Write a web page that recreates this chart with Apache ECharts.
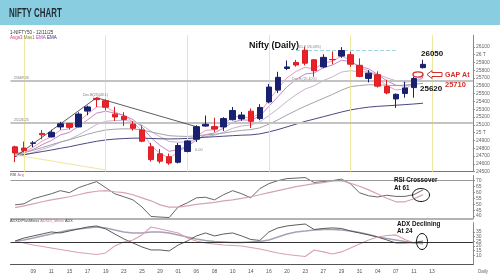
<!DOCTYPE html>
<html><head><meta charset="utf-8">
<script src="https://cdn.jsdelivr.net/npm/echarts@6/dist/echarts.min.js"></script>
<style>html,body{margin:0;padding:0;background:#fff}#c{width:500px;height:280px}</style>
</head><body><div id="c"></div>
<script>
// ---- data ----
const dates = ['05','08','09','10','11','12','15','16','17','18','19','22','23','24','25','26','29','30','01','03','06','07','08','09','10','13','14','15','16','17','20','21','23','24','27','28','29','30','31','03','04','06','07','10','11','12','13','14','17','18','19'];
const openP  = [24819,24803,24864,24991,24946,25074,25119,25074,25277,25441,25410,25238,25209,25109,25035,24819,24729,24692,24621,24760,24916,25085,25079,25074,25167,25177,25276,25181,25394,25546,25824,25901,26057,25935,25843,25939,25982,26000,25864,25696,25744,25593,25433,25503,25578,25834];
const closeP = [24741,24773,24869,24973,25005,25114,25069,25239,25330,25424,25327,25202,25170,25057,24891,24655,24635,24611,24836,24894,25077,25108,25046,25181,25285,25227,25146,25324,25585,25710,25843,25868,25891,25795,25966,25936,26054,25878,25722,25763,25597,25510,25492,25574,25695,25876];
const lowP   = [24622,24752,24814,24915,24940,25038,25039,25070,25224,25329,25286,25151,25085,25027,24878,24629,24606,24588,24606,24748,24881,25076,25008,25024,25157,25152,25060,25160,25376,25508,25802,25847,25862,25718,25827,25876,25960,25845,25711,25645,25578,25492,25318,25449,25449,25823];
const highP  = [24833,24886,24892,25036,25037,25139,25124,25262,25347,25449,25429,25332,25262,25150,25093,24869,24791,24732,24868,24905,25095,25220,25192,25199,25330,25267,25310,25365,25625,25781,25926,25934,26104,25944,26005,26041,26097,26041,25953,25803,25787,25679,25503,25653,25715,25934];
const avg3  = [24736,24755,24812,24893,24949,25032,25051,25145,25238,25331,25329,25266,25218,25138,25015,24835,24735,24673,24755,24825,24951,25030,25038,25110,25198,25213,25180,25252,25419,25565,25704,25786,25839,25817,25892,25914,25984,25931,25827,25795,25696,25603,25548,25561,25628,25752];
const avg5  = [24727,24742,24784,24847,24900,24971,25004,25082,25165,25251,25276,25251,25224,25168,25076,24936,24836,24761,24786,24822,24907,24974,24998,25059,25134,25165,25159,25214,25338,25462,25589,25682,25752,25766,25833,25867,25929,25912,25849,25820,25746,25667,25609,25597,25630,25712];
const avg10 = [24707,24719,24746,24787,24826,24878,24912,24971,25036,25106,25146,25156,25159,25141,25096,25017,24948,24887,24878,24881,24916,24951,24968,25006,25056,25087,25098,25139,25219,25307,25403,25487,25560,25602,25668,25716,25777,25795,25782,25779,25746,25704,25666,25649,25657,25696];
const avg20 = [24720,24745,24775,24810,24845,24880,24910,24945,24980,25010,25035,25045,25050,25048,25035,25010,24985,24962,24955,24952,24960,24972,24980,24995,25015,25030,25040,25062,25110,25165,25227,25285,25340,25390,25440,25490,25545,25590,25605,25615,25613,25608,25605,25610,25620,25634];
const avg50 = [24700,24718,24738,24758,24778,24800,24820,24845,24868,24890,24907,24918,24925,24930,24930,24926,24922,24920,24922,24926,24934,24942,24948,24955,24962,24968,24972,24985,25010,25040,25075,25110,25145,25175,25205,25235,25265,25292,25312,25328,25338,25345,25352,25360,25368,25378];
const rsi    = [49.4,50.3,54.5,56.6,58.7,61.3,59.6,63.8,66.4,68.9,63.8,58.7,56.2,53.6,47.7,39.7,39.2,38.8,47.7,51.1,55.3,55.8,53.6,57.9,61.3,58.7,55.3,63,67.2,69.7,71.4,71.8,72.3,68.1,68.9,69.7,71,67,59.5,57,56,57.5,56.5,56.5,58,62];
const rsiAvg = [47.1,48.6,50.3,52,53.6,54.9,56.2,57.9,59.6,60.8,61.3,60.4,59.6,57.9,55.3,52.8,49.4,47.5,47.5,48.6,49.8,50.7,51.5,52.8,53.6,54.9,56.2,57.9,59.6,61.3,63,64.7,65.9,67.2,68.1,69.3,69.7,67.5,65,62,58.5,55,52,52,54.5,58];
const diPlus  = [25.3,28.5,30.7,32.8,35.0,33.9,36.0,38.2,40.3,41.4,38.2,32.8,27.5,23.2,18.9,15.7,15.7,14.6,21.0,25.3,30.7,33.9,30.7,32.8,33.9,30.7,26.9,25.9,35.0,39.3,41.4,42.5,43.5,37.6,38.7,39.3,38.7,36.0,33.9,31.8,29.6,26.4,23.2,23.2,23.7,25.3];
const diMinus = [25.3,23.2,21.0,19.4,17.8,16.2,14.6,13.0,11.9,10.9,12.5,20.0,24.3,26.4,31.8,40.3,38.2,36.0,33.9,28.5,25.3,23.2,22.1,21.0,20.5,20.0,18.4,16.8,14.6,12.5,10.9,9.8,8.7,15.7,13.6,11.4,13.6,17.8,22.1,26.4,29.6,31.2,31.8,26.9,23.2,22.1];
const adx     = [25.3,26.4,28.5,30.7,32.8,35.0,37.1,38.2,39.3,40.3,39.3,37.1,35.0,33.9,33.9,35.0,35.0,33.9,31.8,29.6,27.5,25.9,24.8,24.3,23.7,23.7,24.3,24.8,26.4,29.6,32.8,35.0,36.0,37.1,37.6,37.6,37.1,36.0,34.4,32.3,29.6,28.0,26.4,24.8,23.2,22.7];
const priceTicks = [24500,24600,24700,24800,24900,25000,25100,25200,25300,25400,25500,25600,25700,25800,25900,26000,26100];
const rsiTicks = [40,45,50,55,60,65,70];
const adxTicks = [5,10,15,20,25,30,35,40];
const levels = [25669.33, 25126.25];
const lastPrice = 25876;
const cycleBars = [1,10,19,28,37,46];

// ---- chart ----
const ohlc = openP.map((o,i)=>[o, closeP[i], lowP[i], highP[i]]);
const chart = echarts.init(document.getElementById('c'), null, {renderer:'canvas'});
const L = 10.5, W = 462.4;
const xCommon = {type:'category', data:dates, boundaryGap:true, axisTick:{show:false}, axisLabel:{show:false}, splitLine:{show:false}};
const yCommon = {type:'value', position:'right', scale:true, splitLine:{show:false},
  axisLine:{show:true, lineStyle:{color:'#8a8a8a'}}, axisTick:{show:true, length:2, lineStyle:{color:'#8a8a8a'}},
  axisLabel:{fontSize:5, color:'#666', margin:3, fontFamily:'Liberation Sans'}};
const lineS = (name, data, color, w, xi, yi) => ({name, type:'line', data, xAxisIndex:xi, yAxisIndex:yi, symbol:'none', lineStyle:{color, width:w}, silent:true, z:3});

const option = {
  animation:false,
  backgroundColor:'#fff',
  grid:[
    {left:L, width:W, top:35.2, height:136.5},
    {left:L, width:W, top:175.5, height:43},
    {left:L, width:W, top:222.6, height:42}
  ],
  xAxis:[
    Object.assign({}, xCommon, {gridIndex:0, axisLine:{show:true, lineStyle:{color:'#777', width:1}}}),
    Object.assign({}, xCommon, {gridIndex:1, axisLine:{show:true, lineStyle:{color:'#9a9a9a', width:1.5}}}),
    Object.assign({}, xCommon, {gridIndex:2, axisLine:{show:true, lineStyle:{color:'#555', width:1}},
      axisLabel:{show:true, fontSize:5, color:'#555', margin:5, fontFamily:'Liberation Sans',
        interval:(i)=> i>=2 && i<=46 && i%2===0}})
  ],
  yAxis:[
    Object.assign({}, yCommon, {gridIndex:0, min:24500, max:26250, interval:100,
      axisLabel:Object.assign({}, yCommon.axisLabel, {customValues:priceTicks,
        formatter:(v)=> v===26000 ? '26 T' : (v===25000 ? '25 T' : String(v))}),
      axisTick:Object.assign({}, yCommon.axisTick, {customValues:priceTicks})}),
    Object.assign({}, yCommon, {gridIndex:1, min:38, max:74, scale:false,
      axisLabel:Object.assign({}, yCommon.axisLabel, {customValues:rsiTicks}),
      axisTick:Object.assign({}, yCommon.axisTick, {customValues:rsiTicks})}),
    Object.assign({}, yCommon, {gridIndex:2, min:0, max:45, interval:5, scale:false,
      axisLabel:Object.assign({}, yCommon.axisLabel, {customValues:adxTicks}),
      axisTick:Object.assign({}, yCommon.axisTick, {customValues:adxTicks})})
  ],
  series:[
    {type:'candlestick', name:'NIFTY', data:ohlc, xAxisIndex:0, yAxisIndex:0, barWidth:6, z:5,
      itemStyle:{color:'#18206f', color0:'#ec2027', borderColor:'#18206f', borderColor0:'#d91e24', borderWidth:1},
      markLine:{silent:true, symbol:'none', label:{show:false}, animation:false, data:[
        ...cycleBars.map(b=>({xAxis:b, lineStyle:{color:'#eee7a2', width:1, type:'solid'}})),
        ...levels.map(v=>({yAxis:v, lineStyle:{color:'#c3c3c3', width:2, type:'solid'}})),
        [{coord:[-0.8, 25545], lineStyle:{color:'#dcc3cf', width:1, type:'solid'}}, {coord:[50, 26067]}],
        [{coord:[0, 24690], lineStyle:{color:'#333', width:0.8, type:'solid'}}, {coord:[9, 25449]}],
        [{coord:[9, 25449], lineStyle:{color:'#333', width:0.8, type:'solid'}}, {coord:[19.6, 25077]}],
        [{coord:[0, 24715], lineStyle:{color:'#efe6a0', width:1, type:'solid'}}, {coord:[10, 24522]}],
        [{coord:[30.9, 26061], lineStyle:{color:'#9fd6e2', width:1, type:'dashed'}}, {coord:[41.9, 26061]}],
        {yAxis:lastPrice, lineStyle:{opacity:0}, label:{show:true, position:'end', formatter:String(lastPrice), color:'#fff', backgroundColor:'#222', fontSize:5, padding:[1,2], distance:3}}
      ]}
    },
    lineS('Avg3', avg3, '#ee9cb8', 1, 0, 0),
    lineS('Avg5', avg5, '#c08ac8', 1, 0, 0),
    lineS('EMA10', avg10, '#c9b2cc', 1, 0, 0),
    lineS('EMA20', avg20, '#a3a3ab', 1, 0, 0),
    lineS('EMA50', avg50, '#4a4a7e', 1, 0, 0),
    Object.assign(lineS('RSI', rsi, '#555', 0.9, 1, 1), {markLine:{silent:true, symbol:'none', label:{show:false}, data:[{yAxis:70, lineStyle:{color:'#9a9a9a', width:1.2, type:'solid'}}]}}),
    lineS('RSI Avg', rsiAvg, '#d6a3b2', 1.2, 1, 1),
    Object.assign(lineS('ADX', adx, '#a6a1b4', 1.5, 2, 2), {markLine:{silent:true, symbol:'none', label:{show:false}, data:[{yAxis:24, lineStyle:{color:'#333', width:1, type:'solid'}}]}}),
    lineS('DI+', diPlus, '#4a4a4a', 0.9, 2, 2),
    lineS('DI-', diMinus, '#d9a0b0', 1.1, 2, 2)
  ],
  graphic:[
    {type:'rect', shape:{x:0, y:0, width:500, height:25}, style:{fill:'#88cee0'}, z:10},
    {type:'text', x:9, y:13.5, scaleX:0.66, style:{text:'NIFTY CHART', fontSize:12, fontWeight:'bold', fontFamily:'Liberation Sans', fill:'#1f2a33', verticalAlign:'middle'}, z:11},
    {type:'text', x:10, y:33, style:{text:'1-NIFTY50 - 12/11/25', fontSize:4.5, fontFamily:'Liberation Sans', fill:'#333', verticalAlign:'middle'}, z:11},
    {type:'text', x:10, y:38, style:{text:'{a|Avgs3} {b|Mas1} {c|EMA} {d|EMA}', fontSize:4.5, fontFamily:'Liberation Sans', verticalAlign:'middle',
      rich:{a:{fill:'#d0406a', fontSize:4.5}, b:{fill:'#8a8a30', fontSize:4.5}, c:{fill:'#b040c0', fontSize:4.5}, d:{fill:'#2a2a80', fontSize:4.5}}}, z:11},
    {type:'text', x:249, y:46, style:{text:'Nifty (Daily)', fontSize:9, fontWeight:'bold', fontFamily:'Liberation Sans', fill:'#111', verticalAlign:'middle'}, z:11},
    {type:'text', x:297, y:47, style:{text:'261.8 (26,08%)', fontSize:3.5, fontFamily:'Liberation Sans', fill:'#888', verticalAlign:'middle'}, z:11},
    {type:'text', x:292, y:79, style:{text:'Dec.B (25,40%)', fontSize:3.5, fontFamily:'Liberation Sans', fill:'#888', verticalAlign:'middle'}, z:11},
    {type:'text', x:83, y:95, style:{text:'Dec.B(25)(43.1)', fontSize:3.5, fontFamily:'Liberation Sans', fill:'#777', verticalAlign:'middle'}, z:11},
    {type:'text', x:195, y:150, style:{text:'0.00', fontSize:4, fontFamily:'Liberation Sans', fill:'#888', verticalAlign:'middle'}, z:11},
    {type:'text', x:14, y:78, style:{text:'25669.33', fontSize:3.5, fontFamily:'Liberation Sans', fill:'#777', verticalAlign:'middle'}, z:11},
    {type:'text', x:14, y:120, style:{text:'25126.25', fontSize:3.5, fontFamily:'Liberation Sans', fill:'#777', verticalAlign:'middle'}, z:11},
    {type:'text', x:421, y:54, style:{text:'26050', fontSize:8, fontWeight:'bold', fontFamily:'Liberation Sans', fill:'#111', verticalAlign:'middle'}, z:11},
    {type:'text', x:420, y:89, style:{text:'25620', fontSize:8, fontWeight:'bold', fontFamily:'Liberation Sans', fill:'#111', verticalAlign:'middle'}, z:11},
    {type:'text', x:445, y:75, style:{text:'GAP At', fontSize:7, fontWeight:'bold', fontFamily:'Liberation Sans', fill:'#d3312c', verticalAlign:'middle'}, z:11},
    {type:'text', x:445, y:85, style:{text:'25710', fontSize:7.5, fontWeight:'bold', fontFamily:'Liberation Sans', fill:'#d3312c', verticalAlign:'middle'}, z:11},
    {type:'ellipse', shape:{cx:418, cy:74.5, rx:5, ry:2.6}, style:{fill:'none', stroke:'#d3312c', lineWidth:1.4}, z:11},
    {type:'polygon', shape:{points:[[427,74.5],[432,70.5],[432,72.5],[442,72.5],[442,76.5],[432,76.5],[432,78.5]]}, style:{fill:'#fff', stroke:'#d3312c', lineWidth:1}, z:11},
    {type:'text', x:10, y:174.5, style:{text:'{a|RSI} {b|Avg}', fontSize:3.8, fontFamily:'Liberation Sans', verticalAlign:'middle', rich:{a:{fill:'#444', fontSize:3.8}, b:{fill:'#c07090', fontSize:3.8}}}, z:11},
    {type:'text', x:394, y:180.5, style:{text:'RSI Crossover', fontSize:6.3, fontWeight:'bold', fontFamily:'Liberation Sans', fill:'#111', verticalAlign:'middle'}, z:11},
    {type:'text', x:394, y:188, style:{text:'At 61', fontSize:6.3, fontWeight:'bold', fontFamily:'Liberation Sans', fill:'#111', verticalAlign:'middle'}, z:11},
    {type:'ellipse', shape:{cx:421, cy:195, rx:8.5, ry:6.5}, style:{fill:'none', stroke:'#111', lineWidth:1}, z:11},
    {type:'text', x:10, y:221, style:{text:'{a|ADXDIPlusMinus} {b|ADXDI_Minus} {a|ADX}', fontSize:3.8, fontFamily:'Liberation Sans', verticalAlign:'middle', rich:{a:{fill:'#444', fontSize:3.8}, b:{fill:'#c07090', fontSize:3.8}}}, z:11},
    {type:'text', x:397, y:224.5, style:{text:'ADX Declining', fontSize:6.3, fontWeight:'bold', fontFamily:'Liberation Sans', fill:'#111', verticalAlign:'middle'}, z:11},
    {type:'text', x:397, y:231.5, style:{text:'At 24', fontSize:6.3, fontWeight:'bold', fontFamily:'Liberation Sans', fill:'#111', verticalAlign:'middle'}, z:11},
    {type:'ellipse', shape:{cx:422, cy:241.5, rx:5.5, ry:8}, style:{fill:'none', stroke:'#111', lineWidth:1}, z:11},
    {type:'text', x:478, y:272, style:{text:'Daily', fontSize:4.5, fontFamily:'Liberation Sans', fill:'#666', verticalAlign:'middle'}, z:11}
  ]
};
chart.setOption(option);
</script>
</body></html>
